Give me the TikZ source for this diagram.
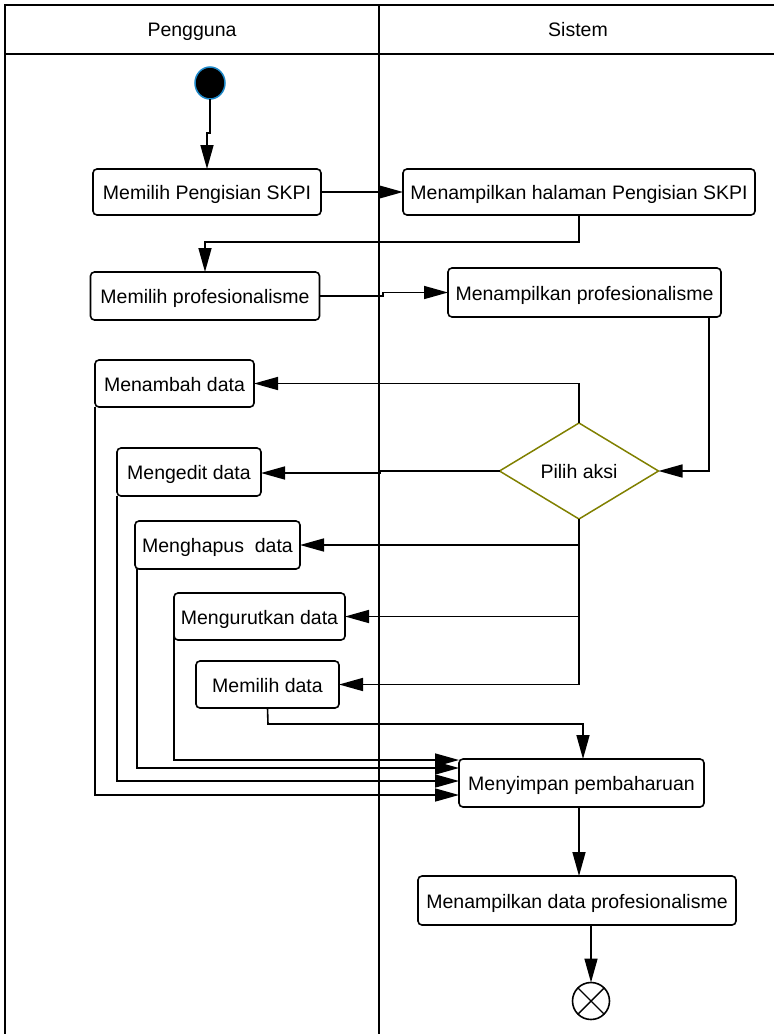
\documentclass[tikz,border=0pt]{standalone}
\usepackage{fontspec}
\setmainfont{Liberation Sans}
\usetikzlibrary{arrows.meta,shapes.geometric}
\definecolor{decisionolive}{RGB}{128,128,0}
\definecolor{startblue}{RGB}{30,136,200}

\begin{document}
\begin{tikzpicture}[x=1pt,y=-1pt,
  every node/.style={font=\fontsize{19.5}{23}\selectfont, outer sep=0pt},
  act/.style={draw, rounded corners=4pt, line width=1.6pt, inner sep=0pt, align=center,
              text height=15pt, text depth=0pt},
  flow/.style={line width=1.6pt, -{Triangle[length=24pt,width=13pt]}},
  lane/.style={line width=1.6pt},
]
\useasboundingbox (0,0) rectangle (774,1034);

% swimlane frame
\draw[lane] (5,1034) -- (5,5) -- (774,5);
\draw[lane] (5,54) -- (774,54);
\draw[lane] (379,5) -- (379,1034);
\node[text height=15pt, text depth=0pt] (laneU) at (192,29) {Pengguna};
\node[text height=15pt, text depth=0pt] (laneS) at (578,29) {Sistem};

% start and end
\node[draw=startblue, fill=black, ellipse, minimum width=30pt, minimum height=32pt,
      line width=1.5pt, inner sep=0pt] (start) at (210,83) {};
\node[draw, circle, minimum size=37pt, inner sep=0pt, line width=1.6pt,
      path picture={\draw[line width=1.4pt]
        (path picture bounding box.north west) -- (path picture bounding box.south east)
        (path picture bounding box.north east) -- (path picture bounding box.south west);}]
      (end) at (591,1001) {};

% activities
\node[act, minimum width=228pt, minimum height=46pt] (b1) at (207,192) {Memilih Pengisian SKPI};
\node[act, minimum width=352pt, minimum height=46pt] (b2) at (579,192) {Menampilkan halaman Pengisian SKPI};
\node[act, minimum width=229pt, minimum height=48pt] (b3) at (205,296) {Memilih profesionalisme};
\node[act, minimum width=273pt, minimum height=49pt] (b4) at (584.5,292.5) {Menampilkan profesionalisme};
\node[act, minimum width=159pt, minimum height=47pt] (add) at (174.5,383.5) {Menambah data};
\node[act, minimum width=144pt, minimum height=48pt] (edit) at (189,472) {Mengedit data};
\node[act, minimum width=165pt, minimum height=48pt] (del) at (217.5,545) {Menghapus\ \ data};
\node[act, minimum width=171pt, minimum height=47pt] (sort) at (259.5,616.5) {Mengurutkan data};
\node[act, minimum width=143pt, minimum height=47pt] (pick) at (267.5,684.5) {Memilih data};
\node[act, minimum width=245pt, minimum height=48pt] (save) at (581.5,783) {Menyimpan pembaharuan};
\node[act, minimum width=318pt, minimum height=49pt] (b5) at (577,900.5) {Menampilkan data profesionalisme};

% decision
\node[draw=decisionolive, diamond, shape aspect=1.66, minimum width=159pt, minimum height=96pt,
      inner sep=0pt, line width=1.5pt, text height=15pt, text depth=0pt] (dec) at (579,471) {Pilih aksi};

% flows
\draw[flow] (start.south) -- (210,133) -- (207,133) -- (b1.north);
\draw[flow] (b1.east) -- (b2.west);
\draw[flow] (b2.south) -- (579,242) -- (205,242) -- (b3.north);
\draw[flow] (b3.east) -- (383,296) -- (383,292.5) -- (b4.west);
\draw[flow] (709,317) |- (dec.east);
\draw[flow] (dec.north) |- (add.east);
\draw[flow] (dec.west) -- (380,471) -- (380,473) -- (edit.east |- 0,473);
\draw[flow] (dec.south) |- (del.east);
\draw[flow] (dec.south) |- (sort.east);
\draw[flow] (dec.south) |- (pick.east);
\draw[flow] (pick.south) -- (268,724) -- (583,724) -- (save.north -| 583,0);
\draw[flow] (sort.west) -- (174,760) -- (save.west |- 0,760);
\draw[flow] ([xshift=2pt]del.south west) |- (save.west |- 0,768);
\draw[flow] (edit.south west) |- (save.west |- 0,781);
\draw[flow] (add.south west) |- (save.west |- 0,795);
\draw[flow] (save.south -| 579,0) -- (b5.north -| 579,0);
\draw[flow] (b5.south -| end.north) -- (end.north);
\end{tikzpicture}
\end{document}
